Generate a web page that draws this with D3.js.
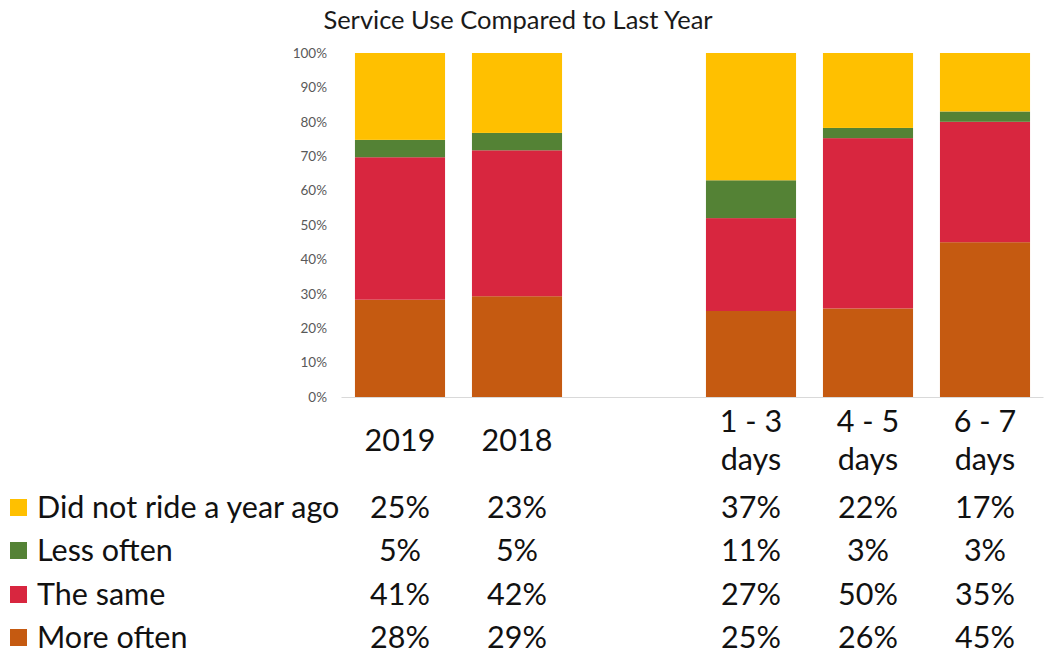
<!DOCTYPE html>
<html>
<head>
<meta charset="utf-8">
<script src="https://cdn.jsdelivr.net/npm/d3@7"></script>
<style>
  html, body { margin: 0; padding: 0; background: #fff; }
  svg { display: block; font-family: Lato, "Open Sans", sans-serif; }
</style>
</head>
<body>
<svg id="chart" width="1059" height="664"></svg>
<script>
// ---- data ----
const categories = ["2019", "2018", "1 - 3 days", "4 - 5 days", "6 - 7 days"];
const headerLines = [["2019"], ["2018"], ["1 - 3", "days"], ["4 - 5", "days"], ["6 - 7", "days"]];
const slots = ["2019", "2018", "__gap__", "1 - 3 days", "4 - 5 days", "6 - 7 days"];
const seriesNames = ["More often", "The same", "Less often", "Did not ride a year ago"];
const moreOften = [28, 29, 25, 26, 45];
const theSame = [41, 42, 27, 50, 35];
const lessOften = [5, 5, 11, 3, 3];
const didNotRide = [25, 23, 37, 22, 17];
const tickValues = [0, 0.1, 0.2, 0.3, 0.4, 0.5, 0.6, 0.7, 0.8, 0.9, 1.0];
const tickLabels = ["0%", "10%", "20%", "30%", "40%", "50%", "60%", "70%", "80%", "90%", "100%"];
const colors = {
  "More often": "#C55A11",
  "The same": "#D8263F",
  "Less often": "#548235",
  "Did not ride a year ago": "#FFC000"
};
const legendOrder = ["Did not ride a year ago", "Less often", "The same", "More often"];

// ---- build ----
const seriesValues = {
  "More often": moreOften,
  "The same": theSame,
  "Less often": lessOften,
  "Did not ride a year ago": didNotRide
};
const rows = categories.map((c, i) => {
  const r = { category: c };
  seriesNames.forEach(s => r[s] = seriesValues[s][i]);
  return r;
});

const svg = d3.select("#chart");

const x = d3.scaleBand().domain(slots).range([341.5, 1043.5]).paddingInner(0.23).paddingOuter(0.115);
const y = d3.scaleLinear().domain([0, 1]).range([397, 53]);

const stack = d3.stack().keys(seriesNames).offset(d3.stackOffsetExpand);
const stacked = stack(rows);

// title
svg.append("text")
  .attr("x", 518).attr("y", 29)
  .attr("text-anchor", "middle")
  .attr("font-size", 25.5)
  .attr("fill", "#1a1a1a")
  .text("Service Use Compared to Last Year");

// y axis (labels only)
const yAxis = d3.axisLeft(y).tickValues(tickValues)
  .tickFormat((d, i) => tickLabels[i]).tickSize(0).tickPadding(0);
const yg = svg.append("g").attr("transform", "translate(327,0)").call(yAxis);
yg.select(".domain").remove();
yg.selectAll("text").attr("font-size", 13.5).attr("fill", "#595959")
  .attr("font-family", "Lato, sans-serif");

// bars
svg.append("g").selectAll("g")
  .data(stacked).join("g")
  .attr("fill", d => colors[d.key])
  .selectAll("rect")
  .data(d => d).join("rect")
  .attr("x", d => x(d.data.category))
  .attr("width", x.bandwidth())
  .attr("y", d => y(d[1]))
  .attr("height", d => y(d[0]) - y(d[1]));

// baseline axis
svg.append("line")
  .attr("x1", x.range()[0]).attr("x2", x.range()[1])
  .attr("y1", y(0) + 0.5).attr("y2", y(0) + 0.5)
  .attr("stroke", "#D9D9D9").attr("stroke-width", 1);

// table headers
const fs = 30.5;
categories.forEach((c, i) => {
  const cx = x(c) + x.bandwidth() / 2;
  const lines = headerLines[i];
  const t = svg.append("text").attr("text-anchor", "middle")
    .attr("font-size", fs).attr("fill", "#111");
  if (lines.length === 1) {
    t.append("tspan").attr("x", cx).attr("y", 451).text(lines[0]);
  } else {
    t.append("tspan").attr("x", cx).attr("y", 432).text(lines[0]);
    t.append("tspan").attr("x", cx).attr("y", 470).text(lines[1]);
  }
});

// table rows with legend
const rowBaselines = [518, 561, 605, 648];
legendOrder.forEach((s, ri) => {
  const by = rowBaselines[ri];
  svg.append("rect")
    .attr("x", 10).attr("y", by - 19).attr("width", 17).attr("height", 17)
    .attr("fill", colors[s]);
  svg.append("text")
    .attr("x", 37).attr("y", by)
    .attr("font-size", fs).attr("fill", "#111")
    .text(s);
  categories.forEach((c, ci) => {
    svg.append("text")
      .attr("x", x(c) + x.bandwidth() / 2).attr("y", by)
      .attr("text-anchor", "middle")
      .attr("font-size", fs).attr("fill", "#111")
      .text(seriesValues[s][ci] + "%");
  });
});
</script>
</body>
</html>
